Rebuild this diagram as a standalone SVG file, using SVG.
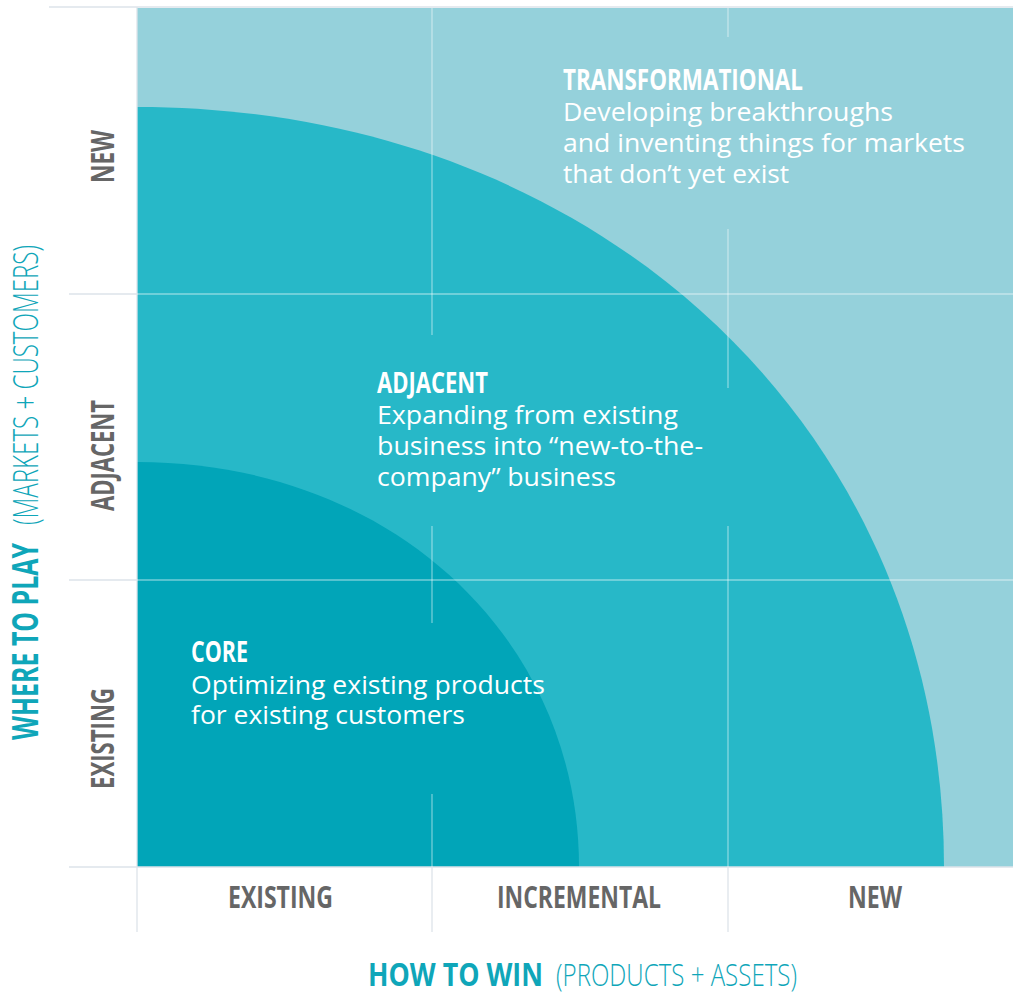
<svg xmlns="http://www.w3.org/2000/svg" width="1013" height="994" viewBox="0 0 1013 994">
<style>
.head{font-family:"Open Sans","Liberation Sans",sans-serif;font-weight:700;font-size:28px;fill:#ffffff}
.body{font-family:"Open Sans","Liberation Sans",sans-serif;font-weight:400;font-size:26.3px;fill:#ffffff}
.lab{font-family:"Open Sans","Liberation Sans",sans-serif;font-weight:700;fill:#666666}
.axb{font-family:"Open Sans","Liberation Sans",sans-serif;font-weight:700;fill:#0fa6b9}
.axl{font-family:"Open Sans","Liberation Sans",sans-serif;font-weight:300;fill:#0fa6b9}
.gl{stroke:#dde3ea;stroke-width:1.3;fill:none}
.wl{stroke:#ffffff;stroke-opacity:0.45;stroke-width:1.3;fill:none}
</style>
<rect width="1013" height="994" fill="#ffffff"/>
<g id="zones">
<rect id="transformational-zone" x="137" y="8" width="876" height="859" fill="#95d1db"/>
<path id="adjacent-zone" d="M137 867 L137 107 C597 107 944 427 944 867 Z" fill="#27b8c8"/>
<path id="core-zone" d="M137 867 L137 462 C393 462 579 640 579 867 Z" fill="#01a5b8"/>
</g>
<g id="grid">
<line class="gl" x1="49" y1="7" x2="1013" y2="7"/>
<line class="gl" x1="137" y1="7" x2="137" y2="932"/>
<line class="gl" x1="69" y1="294" x2="137" y2="294"/>
<line class="wl" x1="137" y1="294" x2="1013" y2="294"/>
<line class="gl" x1="69" y1="580" x2="137" y2="580"/>
<line class="wl" x1="137" y1="580" x2="1013" y2="580"/>
<line class="gl" x1="69" y1="867" x2="1013" y2="867"/>
<line class="wl" x1="432" y1="8" x2="432" y2="335"/>
<line class="wl" x1="432" y1="526" x2="432" y2="623"/>
<line class="wl" x1="432" y1="794" x2="432" y2="867"/>
<line class="gl" x1="432" y1="867" x2="432" y2="932"/>
<line class="wl" x1="728" y1="8" x2="728" y2="37"/>
<line class="wl" x1="728" y1="229" x2="728" y2="388"/>
<line class="wl" x1="728" y1="526" x2="728" y2="867"/>
<line class="gl" x1="728" y1="867" x2="728" y2="932"/>
</g>
<g id="transformational">
<text class="head" x="563" y="90" textLength="240" lengthAdjust="spacingAndGlyphs">TRANSFORMATIONAL</text>
<text class="body" x="563" y="121" textLength="330" lengthAdjust="spacingAndGlyphs">Developing breakthroughs</text>
<text class="body" x="563" y="152" textLength="402" lengthAdjust="spacingAndGlyphs">and inventing things for markets</text>
<text class="body" x="563" y="183">that don’t yet exist</text>
</g>
<g id="adjacent">
<text class="head" x="377" y="393" textLength="111" lengthAdjust="spacingAndGlyphs">ADJACENT</text>
<text class="body" x="377" y="424" textLength="301" lengthAdjust="spacingAndGlyphs">Expanding from existing</text>
<text class="body" x="377" y="455" textLength="326" lengthAdjust="spacingAndGlyphs">business into “new-to-the-</text>
<text class="body" x="377" y="486" textLength="239" lengthAdjust="spacingAndGlyphs">company” business</text>
</g>
<g id="core">
<text class="head" x="191" y="662" textLength="57" lengthAdjust="spacingAndGlyphs">CORE</text>
<text class="body" x="191" y="694" textLength="354" lengthAdjust="spacingAndGlyphs">Optimizing existing products</text>
<text class="body" x="191" y="724" textLength="274" lengthAdjust="spacingAndGlyphs">for existing customers</text>
</g>
<g id="row-labels">
<text class="lab" font-size="32" transform="translate(114,183) rotate(-90)" textLength="53" lengthAdjust="spacingAndGlyphs">NEW</text>
<text class="lab" font-size="32" transform="translate(114,511) rotate(-90)" textLength="111" lengthAdjust="spacingAndGlyphs">ADJACENT</text>
<text class="lab" font-size="32" transform="translate(114,789) rotate(-90)" textLength="101" lengthAdjust="spacingAndGlyphs">EXISTING</text>
</g>
<g id="column-labels">
<text class="lab" font-size="30" x="228" y="908" textLength="105" lengthAdjust="spacingAndGlyphs">EXISTING</text>
<text class="lab" font-size="30" x="497" y="908" textLength="164" lengthAdjust="spacingAndGlyphs">INCREMENTAL</text>
<text class="lab" font-size="30" x="848" y="908" textLength="54" lengthAdjust="spacingAndGlyphs">NEW</text>
</g>
<g id="y-axis-title">
<text class="axb" font-size="35" transform="translate(38,740) rotate(-90)" textLength="197" lengthAdjust="spacingAndGlyphs">WHERE TO PLAY</text>
<text class="axl" font-size="35" transform="translate(38,525) rotate(-90)" textLength="280" lengthAdjust="spacingAndGlyphs">(MARKETS + CUSTOMERS)</text>
</g>
<g id="x-axis-title">
<text class="axb" font-size="32" x="368" y="986" textLength="175" lengthAdjust="spacingAndGlyphs">HOW TO WIN</text>
<text class="axl" font-size="32" x="556" y="986" textLength="241" lengthAdjust="spacingAndGlyphs">(PRODUCTS + ASSETS)</text>
</g>
</svg>
